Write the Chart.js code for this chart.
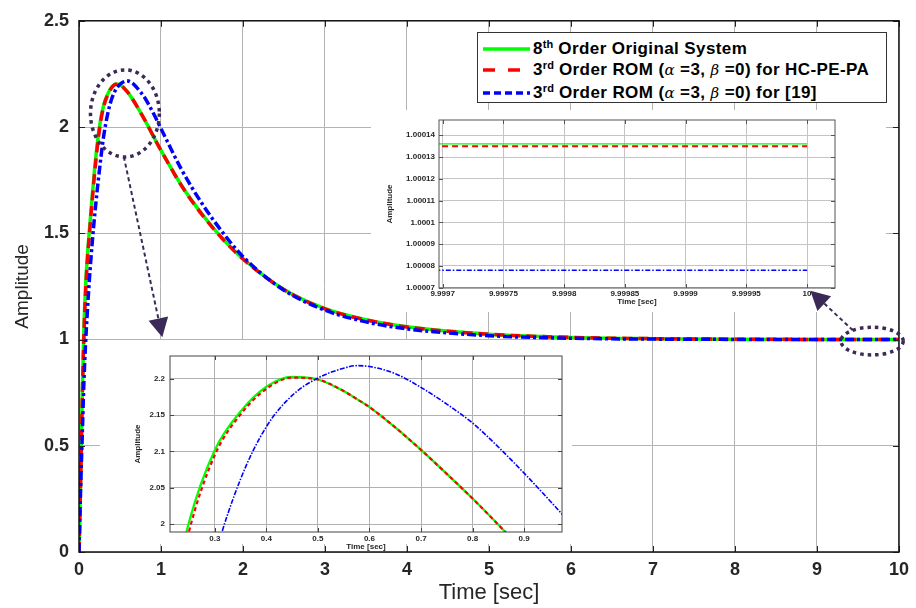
<!DOCTYPE html>
<html><head><meta charset="utf-8">
<script src="https://cdn.jsdelivr.net/npm/chart.js@4.4.1/dist/chart.umd.min.js"></script>
<style>
html,body{margin:0;padding:0;background:#fff;}
#wrap{position:relative;width:916px;height:608px;overflow:hidden;background:#fff;}
canvas{position:absolute;}
#main{left:0;top:0;z-index:1}
#ins1{left:371px;top:110px;z-index:2}
#ins2{left:100px;top:340px;z-index:2}
#ann{left:0;top:0;z-index:4;pointer-events:none}
#legend{position:absolute;left:477px;top:32px;width:408px;height:69px;border:1px solid #333;background:#fff;z-index:3;
  font-family:"Liberation Sans",Arial,sans-serif;font-weight:bold;font-size:17px;letter-spacing:0.4px;color:#000;}
#legend .row{position:absolute;left:0;height:20px;line-height:20px;white-space:nowrap;}
#legend svg{position:absolute;left:5px;top:7px;}
#legend .txt{position:absolute;left:55px;top:0;}
#legend sup{font-size:11px;position:relative;top:-6px;vertical-align:baseline;line-height:0;letter-spacing:0;}
#legend i{font-family:"DejaVu Serif",serif;font-weight:normal;font-size:15px;}
</style>
</head><body>
<div id="wrap">
  <canvas id="main" width="916" height="608"></canvas>
  <canvas id="ins1" width="515" height="202"></canvas>
  <canvas id="ins2" width="472" height="214"></canvas>
  <canvas id="ann" width="916" height="608"></canvas>
  <div id="legend">
    <div class="row" style="top:6px"><svg width="50" height="6"><line x1="0" y1="3" x2="47" y2="3" stroke="#00ff00" stroke-width="3.5"/></svg><span class="txt">8<sup>th</sup> Order Original System</span></div>
    <div class="row" style="top:27px"><svg width="50" height="6"><line x1="0" y1="3" x2="47" y2="3" stroke="#ff0000" stroke-width="3.5" stroke-dasharray="12 13"/></svg><span class="txt">3<sup>rd</sup> Order ROM (<i>α</i> =3, <i>β</i> =0) for HC-PE-PA</span></div>
    <div class="row" style="top:50px"><svg width="50" height="6"><line x1="0" y1="3" x2="47" y2="3" stroke="#0000ff" stroke-width="3.5" stroke-dasharray="7 4"/></svg><span class="txt">3<sup>rd</sup> Order ROM (<i>α</i> =3, <i>β</i> =0) for [19]</span></div>
  </div>
</div>
<script>
// ---------------- data ----------------
const time = [0, 0.02, 0.04, 0.06, 0.08, 0.1, 0.13, 0.16, 0.2, 0.25, 0.3, 0.35, 0.4, 0.45, 0.5, 0.55, 0.575, 0.6, 0.65, 0.7, 0.75, 0.8, 0.85, 0.9, 0.95, 1, 1.25, 1.5, 1.75, 2, 2.5, 3, 3.5, 4, 5, 6, 7, 8, 9, 9.9997, 10];
const original8 = [0, 0.35, 0.75, 1.05, 1.25, 1.38, 1.53, 1.67, 1.84, 2.003, 2.102, 2.155, 2.189, 2.2025, 2.199, 2.183, 2.1722, 2.161, 2.133, 2.102, 2.069, 2.035, 1.999, 1.962, 1.925, 1.89, 1.725, 1.59, 1.475, 1.38, 1.235, 1.145, 1.093, 1.06, 1.025, 1.01, 1.004, 1.0015, 1.0005, 1.000136, 1.000136];
const romHCPEPA = [0, 0.33, 0.72, 1.02, 1.22, 1.36, 1.51, 1.65, 1.82, 1.99, 2.095, 2.151, 2.186, 2.2015, 2.199, 2.183, 2.1722, 2.161, 2.133, 2.102, 2.069, 2.035, 1.999, 1.962, 1.925, 1.89, 1.724, 1.588, 1.474, 1.379, 1.234, 1.144, 1.092, 1.059, 1.025, 1.01, 1.004, 1.0015, 1.0005, 1.000135, 1.000135];
const rom19 = [0, 0.3, 0.55, 0.8, 0.98, 1.12, 1.3, 1.45, 1.62, 1.80, 1.955, 2.062, 2.134, 2.177, 2.201, 2.2145, 2.218, 2.2168, 2.207, 2.188, 2.165, 2.139, 2.106, 2.07, 2.032, 1.993, 1.80, 1.64, 1.505, 1.39, 1.232, 1.138, 1.083, 1.05, 1.018, 1.006, 1.002, 1.0006, 1.0002, 1.000078, 1.000078];

const mainXTicks = [0, 1, 2, 3, 4, 5, 6, 7, 8, 9, 10];
const mainXLabels = ['0', '1', '2', '3', '4', '5', '6', '7', '8', '9', '10'];
const mainYTicks = [0, 0.5, 1, 1.5, 2, 2.5];
const mainYLabels = ['0', '0.5', '1', '1.5', '2', '2.5'];

const peakXTicks = [0.3, 0.4, 0.5, 0.6, 0.7, 0.8, 0.9];
const peakXLabels = ['0.3', '0.4', '0.5', '0.6', '0.7', '0.8', '0.9'];
const peakYTicks = [2, 2.05, 2.1, 2.15, 2.2];
const peakYLabels = ['2', '2.05', '2.1', '2.15', '2.2'];

const endXTicks = [9.9997, 9.99975, 9.9998, 9.99985, 9.9999, 9.99995, 10];
const endXLabels = ['9.9997', '9.99975', '9.9998', '9.99985', '9.9999', '9.99995', '10'];
const endYTicks = [1.00007, 1.00008, 1.00009, 1.0001, 1.00011, 1.00012, 1.00013, 1.00014];
const endYLabels = ['1.00007', '1.00008', '1.00009', '1.0001', '1.00011', '1.00012', '1.00013', '1.00014'];

// ---------------- helpers ----------------
const FAM = '"Liberation Sans", Arial, sans-serif';
const TXT = '#262626';
function pts(values, lo, hi) {
  const out = [];
  time.forEach((t, i) => { if (t >= lo && t <= hi) out.push({x: t, y: values[i]}); });
  return out;
}
const frame = {
  id: 'frame',
  beforeDraw(chart, args, o) {
    if (!o.bg) return;
    const c = chart.ctx; c.save(); c.fillStyle = '#fff';
    c.fillRect(0, 0, chart.width, o.bgHeight || chart.height); c.restore();
  },
  afterDraw(chart, args, o) {
    const c = chart.ctx, a = chart.chartArea, xs = chart.scales.x, ys = chart.scales.y;
    const L = o.tick || 5;
    c.save();
    c.strokeStyle = o.tickColor || '#222'; c.lineWidth = 1;
    c.beginPath();
    xs.ticks.forEach(t => {
      const p = Math.round(xs.getPixelForValue(t.value)) + 0.5;
      c.moveTo(p, a.bottom); c.lineTo(p, a.bottom - L);
      c.moveTo(p, a.top); c.lineTo(p, a.top + L);
    });
    ys.ticks.forEach(t => {
      const p = Math.round(ys.getPixelForValue(t.value)) + 0.5;
      c.moveTo(a.left, p); c.lineTo(a.left + L, p);
      c.moveTo(a.right, p); c.lineTo(a.right - L, p);
    });
    c.stroke();
    c.strokeStyle = o.boxColor || '#000'; c.lineWidth = o.boxWidth || 1;
    c.strokeRect(a.left, a.top, a.right - a.left, a.bottom - a.top);
    c.restore();
  }
};
function ds(data, color, width, dash, order) {
  return {data, borderColor: color, backgroundColor: color, borderWidth: width, borderDash: dash,
    pointRadius: 0, showLine: true, fill: false, cubicInterpolationMode: 'monotone', order,
    borderCapStyle: 'butt'};
}
function axis(min, max, ticks, labels, o) {
  return {
    type: 'linear', min, max,
    afterBuildTicks: s => { s.ticks = ticks.map(v => ({value: v})); },
    afterFit: o.fit,
    grid: {color: o.grid, lineWidth: 1, drawTicks: false},
    border: {display: false},
    ticks: {autoSkip: false, maxRotation: 0, minRotation: 0, padding: o.pad, color: o.tcolor || TXT,
      font: {family: FAM, size: o.tsize, weight: 'bold'}, callback: (v, i) => labels[i]},
    title: {display: true, text: o.title, color: o.tcolor || TXT,
      font: {family: FAM, size: o.ttsize, weight: o.tweight || 'normal'}, padding: o.tpad}
  };
}
const base = {responsive: false, animation: false, events: [], maintainAspectRatio: false};

// ---------------- main chart ----------------
const annotate = {
  id: 'annotate',
  afterRender(chart) {
    const cv = document.getElementById('ann'); const c = cv.getContext('2d');
    c.clearRect(0, 0, cv.width, cv.height);
    const xs = chart.scales.x, ys = chart.scales.y;
    const X = v => xs.getPixelForValue(v), Y = v => ys.getPixelForValue(v);
    const col = '#3b2a58';
    function ellipse(t, a, rt, ra) {
      c.save(); c.strokeStyle = col; c.lineWidth = 3.5; c.setLineDash([3.5, 4]);
      c.beginPath();
      c.ellipse(X(t), Y(a), Math.abs(X(t + rt) - X(t)), Math.abs(Y(a + ra) - Y(a)), 0, 0, Math.PI * 2);
      c.stroke(); c.restore();
    }
    function arrow(t0, a0, t1, a1) {
      const x0 = X(t0), y0 = Y(a0), x1 = X(t1), y1 = Y(a1);
      const ang = Math.atan2(y1 - y0, x1 - x0), len = 19, half = 10;
      const bx = x1 - len * Math.cos(ang), by = y1 - len * Math.sin(ang);
      c.save(); c.strokeStyle = col; c.lineWidth = 2; c.setLineDash([4, 3]);
      c.beginPath(); c.moveTo(x0, y0); c.lineTo(bx, by); c.stroke();
      c.setLineDash([]); c.fillStyle = col; c.beginPath();
      c.moveTo(x1, y1);
      c.lineTo(bx + half * Math.sin(ang), by - half * Math.cos(ang));
      c.lineTo(bx - half * Math.sin(ang), by + half * Math.cos(ang));
      c.closePath(); c.fill(); c.restore();
    }
    ellipse(0.56, 2.064, 0.42, 0.205);
    arrow(0.547, 1.86, 1.016, 1.011);
    ellipse(9.672, 0.9925, 0.38, 0.065);
    arrow(9.437, 1.044, 8.919, 1.23);
  }
};

new Chart(document.getElementById('main'), {
  type: 'scatter',
  data: {datasets: [
    ds(pts(original8, 0, 10), '#00ff00', 3.5, [], 3),
    ds(pts(romHCPEPA, 0, 10), '#ff0000', 3.5, [10, 6], 2),
    ds(pts(rom19, 0, 10), '#0000ff', 3.5, [9, 3, 3, 3], 1)
  ]},
  options: Object.assign({}, base, {
    layout: {padding: {top: 16, right: 10, left: 0, bottom: 0}},
    plugins: {legend: {display: false}, tooltip: {enabled: false},
      frame: {tick: 6, boxColor: '#111', boxWidth: 1.5, tickColor: '#222'}},
    scales: {
      x: axis(0, 10, mainXTicks, mainXLabels, {fit: s => { s.height = 56; }, grid: '#b4b4b4', pad: 7,
        tsize: 18, title: 'Time [sec]', ttsize: 22, tpad: {top: 0, bottom: 2}}),
      y: axis(0, 2.5, mainYTicks, mainYLabels, {fit: s => { s.width = 79; }, grid: '#b4b4b4', pad: 10,
        tsize: 18, title: 'Amplitude', ttsize: 19, tpad: {top: 11, bottom: 0}})
    }
  }),
  plugins: [frame, annotate]
});

// ---------------- inset: end of response ----------------
new Chart(document.getElementById('ins1'), {
  type: 'scatter',
  data: {datasets: [
    ds(pts(original8, 9, 10), '#00ff00', 1.2, [], 3),
    ds(pts(romHCPEPA, 9, 10), '#ff0000', 2, [6, 4], 2),
    ds(pts(rom19, 9, 10), '#0000ff', 1.5, [5, 2, 1.5, 2], 1)
  ]},
  options: Object.assign({}, base, {
    layout: {padding: {top: 10, right: 51, left: 0, bottom: 0}},
    plugins: {legend: {display: false}, tooltip: {enabled: false},
      frame: {bg: true, tick: 4, boxColor: '#555', boxWidth: 1, tickColor: '#555'}},
    scales: {
      x: axis(9.999697, 10.000023, endXTicks, endXLabels, {fit: s => { s.height = 24; }, grid: '#c4c4c4', pad: 1,
        tsize: 8, title: 'Time [sec]', ttsize: 8, tweight: 'bold', tpad: {top: 0, bottom: 5}}),
      y: axis(1.0000699, 1.000147, endYTicks, endYLabels, {fit: s => { s.width = 68; }, grid: '#c4c4c4', pad: 4,
        tsize: 8, title: 'Amplitude', ttsize: 8, tweight: 'bold', tpad: {top: 14, bottom: 0}})
    }
  }),
  plugins: [frame]
});

// ---------------- inset: peak ----------------
new Chart(document.getElementById('ins2'), {
  type: 'scatter',
  data: {datasets: [
    ds(pts(original8, 0.15, 1.1), '#00ff00', 2.2, [], 3),
    ds(pts(romHCPEPA, 0.15, 1.1), '#ff0000', 2.2, [4, 3], 2),
    ds(pts(rom19, 0.15, 1.1), '#0000ff', 1.6, [5, 1.5, 1.5, 1.5], 1)
  ]},
  options: Object.assign({}, base, {
    layout: {padding: {top: 16, right: 10, left: 0, bottom: 0}},
    plugins: {legend: {display: false}, tooltip: {enabled: false},
      frame: {bg: true, bgHeight: 204, tick: 4, boxColor: '#444', boxWidth: 1, tickColor: '#444'}},
    scales: {
      x: axis(0.213, 0.9735, peakXTicks, peakXLabels, {fit: s => { s.height = 22; }, grid: '#b0b0b0', pad: 2,
        tsize: 8, title: 'Time [sec]', ttsize: 8, tweight: 'bold', tpad: {top: 0, bottom: 2}}),
      y: axis(1.989, 2.2313, peakYTicks, peakYLabels, {fit: s => { s.width = 70; }, grid: '#b0b0b0', pad: 5,
        tsize: 8, title: 'Amplitude', ttsize: 8, tweight: 'bold', tpad: {top: 33, bottom: 0}})
    }
  }),
  plugins: [frame]
});
</script>
</body></html>
